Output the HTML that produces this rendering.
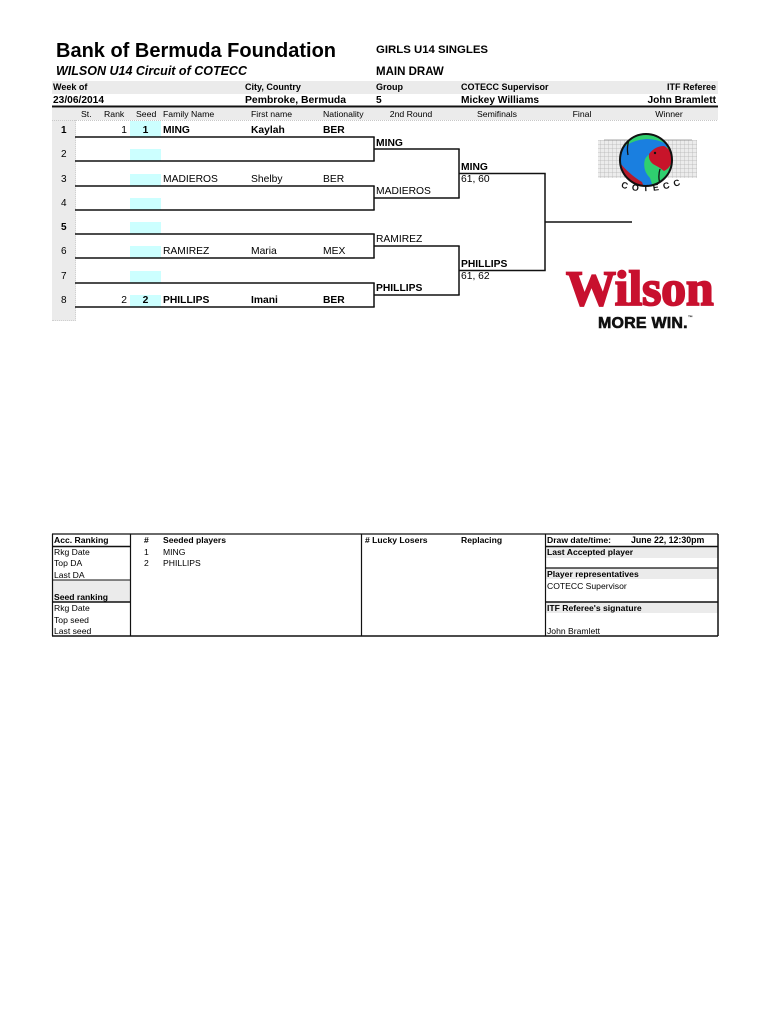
<!DOCTYPE html>
<html><head><meta charset="utf-8">
<style>
html,body{margin:0;padding:0;background:#fff;}
#p{position:relative;width:770px;height:1024px;overflow:hidden;background:#fff;font-family:"Liberation Sans",Arial,sans-serif;color:#000;}
.t{position:absolute;white-space:nowrap;line-height:1;}
.b{font-weight:bold;}
.r{text-align:right;}
.c{text-align:center;}
.g{position:absolute;background:#ebebeb;}
.cy{position:absolute;background:#ccffff;}
svg{position:absolute;left:0;top:0;}
</style></head><body><div id="p">

<!-- gray bands -->
<div class="g" style="left:52px;top:81px;width:666px;height:13px;"></div>
<div class="g" style="left:52px;top:108px;width:666px;height:12px;"></div>
<div class="g" style="left:52px;top:120px;width:23px;height:200px;border-right:1px dotted #d0d0d0;border-bottom:1px dotted #d0d0d0;"></div>

<!-- cyan seed boxes -->
<div class="cy" style="left:130px;top:121px;width:31px;height:16px;"></div>
<div class="cy" style="left:130px;top:149px;width:31px;height:12px;"></div>
<div class="cy" style="left:130px;top:174px;width:31px;height:12px;"></div>
<div class="cy" style="left:130px;top:198px;width:31px;height:12px;"></div>
<div class="cy" style="left:130px;top:222px;width:31px;height:12px;"></div>
<div class="cy" style="left:130px;top:246px;width:31px;height:12px;"></div>
<div class="cy" style="left:130px;top:271px;width:31px;height:12px;"></div>
<div class="cy" style="left:130px;top:295px;width:31px;height:12px;"></div>

<!-- bottom table gray bands -->
<div class="g" style="left:53px;top:580px;width:77px;height:22px;"></div>
<div class="g" style="left:546px;top:547px;width:172px;height:11px;"></div>
<div class="g" style="left:546px;top:568px;width:172px;height:11px;"></div>
<div class="g" style="left:546px;top:602px;width:172px;height:11px;"></div>

<svg width="770" height="1024" viewBox="0 0 770 1024">
  <defs>
    <pattern id="hatch" width="4" height="4" patternUnits="userSpaceOnUse">
      <rect width="4" height="4" fill="#ececec"/>
      <path d="M0 0H4M0 0V4" stroke="#b4b4b4" stroke-width="0.7"/>
    </pattern>
    <clipPath id="cc"><circle cx="646" cy="160" r="26"/></clipPath>
  </defs>
  <!-- header thick line -->
  <line x1="52" y1="106.5" x2="718" y2="106.5" stroke="#111" stroke-width="2"/>
  <line x1="52" y1="120.5" x2="718" y2="120.5" stroke="#c8c8c8" stroke-width="1" stroke-dasharray="1,1"/>

  <g stroke="#111" stroke-width="1.5" fill="none">
    <line x1="75" y1="137" x2="374.7" y2="137"/>
    <line x1="75" y1="161" x2="374.7" y2="161"/>
    <line x1="75" y1="186" x2="374.7" y2="186"/>
    <line x1="75" y1="210" x2="374.7" y2="210"/>
    <line x1="75" y1="234" x2="374.7" y2="234"/>
    <line x1="75" y1="258" x2="374.7" y2="258"/>
    <line x1="75" y1="283" x2="374.7" y2="283"/>
    <line x1="75" y1="307" x2="374.7" y2="307"/>
    <line x1="374" y1="137" x2="374" y2="161"/>
    <line x1="374" y1="186" x2="374" y2="210"/>
    <line x1="374" y1="234" x2="374" y2="258"/>
    <line x1="374" y1="283" x2="374" y2="307"/>
    <line x1="374" y1="149" x2="459.7" y2="149"/>
    <line x1="374" y1="198" x2="459.7" y2="198"/>
    <line x1="374" y1="246" x2="459.7" y2="246"/>
    <line x1="374" y1="295" x2="459.7" y2="295"/>
    <line x1="459" y1="149" x2="459" y2="198"/>
    <line x1="459" y1="246" x2="459" y2="295"/>
    <line x1="459" y1="173.5" x2="545.7" y2="173.5"/>
    <line x1="459" y1="270.5" x2="545.7" y2="270.5"/>
    <line x1="545" y1="173.5" x2="545" y2="270.5"/>
    <line x1="545" y1="222" x2="632" y2="222"/>
  </g>

  <!-- bottom table -->
  <g stroke="#111" fill="none">
    <line x1="52" y1="534" x2="718" y2="534" stroke-width="1.2"/>
    <line x1="52" y1="636" x2="718" y2="636" stroke-width="1.5"/>
    <line x1="52.5" y1="534" x2="52.5" y2="636" stroke-width="1.2"/>
    <line x1="130.5" y1="534" x2="130.5" y2="636" stroke-width="1.2"/>
    <line x1="361.5" y1="534" x2="361.5" y2="636" stroke-width="1.2"/>
    <line x1="545.5" y1="534" x2="545.5" y2="636" stroke-width="1.2"/>
    <line x1="718" y1="534" x2="718" y2="636" stroke-width="1.5"/>
    <line x1="52" y1="546.5" x2="130" y2="546.5" stroke-width="1.5"/>
    <line x1="52" y1="580" x2="130" y2="580" stroke-width="1"/>
    <line x1="52" y1="602" x2="130" y2="602" stroke-width="1.5"/>
    <line x1="545" y1="546.5" x2="718" y2="546.5" stroke-width="1.5"/>
    <line x1="545" y1="568" x2="718" y2="568" stroke-width="1.2"/>
    <line x1="545" y1="602" x2="718" y2="602" stroke-width="1.5"/>
  </g>

  <!-- COTECC logo -->
  <rect x="598" y="140" width="99" height="38" fill="url(#hatch)"/>
  <line x1="604" y1="140" x2="692" y2="140" stroke="#888" stroke-width="0.8"/>
  <g clip-path="url(#cc)">
    <rect x="618" y="132" width="56" height="56" fill="#2fcf6f"/>
    <path d="M618 152 Q630 140 646 139 Q660 139 669 146 L662 150 Q650 151 645 159 Q642 170 650 178 L654 190 L638 190 Q624 178 618 166 Z" fill="#1a7fe0"/>
    <path d="M649 154 Q655 146 664 146 Q672 150 672 159 Q671 168 664 171 Q659 167 653 164 Q648 160 649 154 Z" fill="#c8142a"/>
    <path d="M620 163 Q630 175 642 182 L645 190 L618 190 Z" fill="#b81a2a"/>
    <path d="M631 135 Q626 145 628 155" stroke="#111" stroke-width="1.3" fill="none"/>
    <path d="M660 169 Q657 179 662 188" stroke="#111" stroke-width="1.3" fill="none"/>
    <circle cx="655" cy="153" r="1.2" fill="#111"/>
  </g>
  <circle cx="646" cy="160" r="26" fill="none" stroke="#111" stroke-width="2"/>
  <path id="arc" d="M620 187 Q650 198 694 180" fill="none"/>
  <text font-family="Liberation Sans, sans-serif" font-weight="bold" font-size="9" letter-spacing="4.6" fill="#111"><textPath href="#arc" startOffset="1">COTECC</textPath></text>
</svg>

<!-- Title -->
<div class="t b" style="left:56px;top:40.5px;font-size:20px;">Bank of Bermuda Foundation</div>
<div class="t b" style="left:56px;top:65.4px;font-size:12.5px;font-style:italic;">WILSON U14 Circuit of COTECC</div>
<div class="t b" style="left:376px;top:45.2px;font-size:11.4px;">GIRLS U14 SINGLES</div>
<div class="t b" style="left:376px;top:66.9px;font-size:11.5px;">MAIN DRAW</div>

<!-- band 1 -->
<div class="t b" style="left:53px;top:83px;font-size:9px;">Week of</div>
<div class="t b" style="left:245px;top:83px;font-size:9px;">City, Country</div>
<div class="t b" style="left:376px;top:83px;font-size:9px;">Group</div>
<div class="t b" style="left:461px;top:83px;font-size:9px;">COTECC Supervisor</div>
<div class="t b r" style="right:54px;top:83px;font-size:9px;">ITF Referee</div>
<!-- row 2 -->
<div class="t b" style="left:53px;top:96px;font-size:10.2px;">23/06/2014</div>
<div class="t b" style="left:245px;top:96px;font-size:10.4px;">Pembroke, Bermuda</div>
<div class="t b" style="left:376px;top:96px;font-size:10.2px;">5</div>
<div class="t b" style="left:461px;top:96px;font-size:10.2px;">Mickey Williams</div>
<div class="t b r" style="right:54px;top:96px;font-size:10.2px;">John Bramlett</div>
<!-- band 3 -->
<div class="t" style="left:81px;top:110.2px;font-size:8.7px;">St.</div>
<div class="t" style="left:104px;top:110.2px;font-size:8.7px;">Rank</div>
<div class="t" style="left:136px;top:110.2px;font-size:8.7px;">Seed</div>
<div class="t" style="left:163px;top:110.2px;font-size:8.7px;">Family Name</div>
<div class="t" style="left:251px;top:110.2px;font-size:8.7px;">First name</div>
<div class="t" style="left:323px;top:110.2px;font-size:8.7px;">Nationality</div>
<div class="t c" style="left:371px;width:80px;top:110.2px;font-size:8.7px;">2nd Round</div>
<div class="t c" style="left:457px;width:80px;top:110.2px;font-size:8.7px;">Semifinals</div>
<div class="t c" style="left:542px;width:80px;top:110.2px;font-size:8.7px;">Final</div>
<div class="t c" style="left:629px;width:80px;top:110.2px;font-size:8.7px;">Winner</div>

<!-- row numbers -->
<div class="t b" style="left:61px;top:125.5px;font-size:10px;">1</div>
<div class="t" style="left:61px;top:149.5px;font-size:10px;">2</div>
<div class="t" style="left:61px;top:174.5px;font-size:10px;">3</div>
<div class="t" style="left:61px;top:198.5px;font-size:10px;">4</div>
<div class="t b" style="left:61px;top:222.5px;font-size:10px;">5</div>
<div class="t" style="left:61px;top:246.5px;font-size:10px;">6</div>
<div class="t" style="left:61px;top:271.5px;font-size:10px;">7</div>
<div class="t" style="left:61px;top:295.5px;font-size:10px;">8</div>

<!-- row 1 -->
<div class="t r" style="left:100px;width:27px;top:125.5px;font-size:10.3px;">1</div>
<div class="t b c" style="left:130px;width:31px;top:125.5px;font-size:10.3px;">1</div>
<div class="t b" style="left:163px;top:125.5px;font-size:10.3px;">MING</div>
<div class="t b" style="left:251px;top:125.5px;font-size:10.3px;">Kaylah</div>
<div class="t b" style="left:323px;top:125.5px;font-size:10.3px;">BER</div>
<!-- row 3 -->
<div class="t" style="left:163px;top:174.5px;font-size:10.3px;">MADIEROS</div>
<div class="t" style="left:251px;top:174.5px;font-size:10.3px;">Shelby</div>
<div class="t" style="left:323px;top:174.5px;font-size:10.3px;">BER</div>
<!-- row 6 -->
<div class="t" style="left:163px;top:246.5px;font-size:10.3px;">RAMIREZ</div>
<div class="t" style="left:251px;top:246.5px;font-size:10.3px;">Maria</div>
<div class="t" style="left:323px;top:246.5px;font-size:10.3px;">MEX</div>
<!-- row 8 -->
<div class="t r" style="left:100px;width:27px;top:295.5px;font-size:10.3px;">2</div>
<div class="t b c" style="left:130px;width:31px;top:295.5px;font-size:10.3px;">2</div>
<div class="t b" style="left:163px;top:295.5px;font-size:10.3px;">PHILLIPS</div>
<div class="t b" style="left:251px;top:295.5px;font-size:10.3px;">Imani</div>
<div class="t b" style="left:323px;top:295.5px;font-size:10.3px;">BER</div>

<!-- 2nd round -->
<div class="t b" style="left:376px;top:138.5px;font-size:10.3px;">MING</div>
<div class="t" style="left:376px;top:187px;font-size:10.3px;">MADIEROS</div>
<div class="t" style="left:376px;top:235px;font-size:10.3px;">RAMIREZ</div>
<div class="t b" style="left:376px;top:284px;font-size:10.3px;">PHILLIPS</div>
<!-- semis -->
<div class="t b" style="left:461px;top:162.8px;font-size:10.3px;">MING</div>
<div class="t" style="left:461px;top:175px;font-size:10.3px;">61, 60</div>
<div class="t b" style="left:461px;top:259.5px;font-size:10.3px;">PHILLIPS</div>
<div class="t" style="left:461px;top:272px;font-size:10.3px;">61, 62</div>

<!-- Wilson logo -->
<div class="t b" style="left:566px;top:263px;font-size:50px;font-family:'Liberation Serif',serif;color:#c8102e;-webkit-text-stroke:1.8px #c8102e;letter-spacing:-0.3px;">Wilson</div>
<div class="t b" style="left:598px;top:316.2px;font-size:16px;letter-spacing:0.2px;color:#111;-webkit-text-stroke:0.6px #111;">MORE WIN.<span style="font-size:5px;vertical-align:top;-webkit-text-stroke:0;">™</span></div>

<!-- bottom table text -->
<div class="t b" style="left:54px;top:535.8px;font-size:8.6px;">Acc. Ranking</div>
<div class="t b" style="left:144px;top:535.8px;font-size:8.6px;">#</div>
<div class="t b" style="left:163px;top:535.8px;font-size:8.6px;">Seeded players</div>
<div class="t b" style="left:365px;top:535.8px;font-size:8.6px;"># Lucky Losers</div>
<div class="t b" style="left:461px;top:535.8px;font-size:8.6px;">Replacing</div>
<div class="t b" style="left:547px;top:535.8px;font-size:8.6px;">Draw date/time:</div>
<div class="t b" style="left:631px;top:535.8px;font-size:8.8px;">June 22, 12:30pm</div>

<div class="t" style="left:54px;top:547.8px;font-size:8.6px;">Rkg Date</div>
<div class="t" style="left:54px;top:559.3px;font-size:8.6px;">Top DA</div>
<div class="t" style="left:54px;top:570.8px;font-size:8.6px;">Last DA</div>
<div class="t b" style="left:54px;top:592.8px;font-size:8.6px;">Seed ranking</div>
<div class="t" style="left:54px;top:604.3px;font-size:8.6px;">Rkg Date</div>
<div class="t" style="left:54px;top:615.8px;font-size:8.6px;">Top seed</div>
<div class="t" style="left:54px;top:626.8px;font-size:8.6px;">Last seed</div>

<div class="t" style="left:144px;top:547.8px;font-size:8.6px;">1</div>
<div class="t" style="left:163px;top:547.8px;font-size:8.6px;">MING</div>
<div class="t" style="left:144px;top:559.3px;font-size:8.6px;">2</div>
<div class="t" style="left:163px;top:559.3px;font-size:8.6px;">PHILLIPS</div>

<div class="t b" style="left:547px;top:547.8px;font-size:8.6px;">Last Accepted player</div>
<div class="t b" style="left:547px;top:570.3px;font-size:8.6px;">Player representatives</div>
<div class="t" style="left:547px;top:581.8px;font-size:8.6px;">COTECC Supervisor</div>
<div class="t b" style="left:547px;top:603.8px;font-size:8.6px;">ITF Referee's signature</div>
<div class="t" style="left:547px;top:626.8px;font-size:8.6px;">John Bramlett</div>

</div></body></html>
